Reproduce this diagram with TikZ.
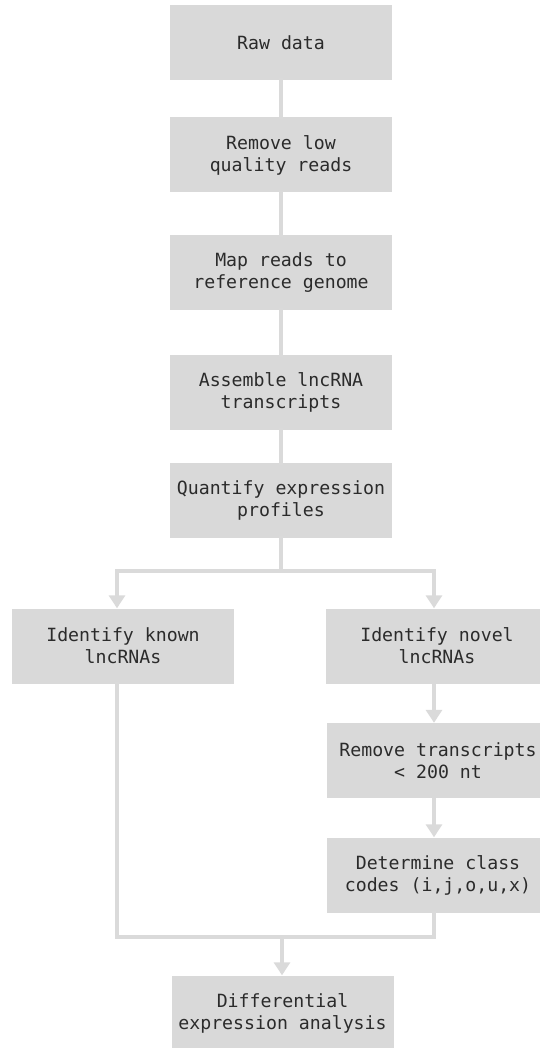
\documentclass[tikz,border=0pt]{standalone}
\usepackage{fontspec}
\setmainfont{DejaVu Sans Mono}
\usetikzlibrary{arrows.meta,calc}
\definecolor{boxgray}{HTML}{D9D9D9}
\definecolor{linegray}{HTML}{DADADA}
\definecolor{txt}{HTML}{2B2B2B}
\begin{document}
\begin{tikzpicture}[x=1pt,y=-1pt,
  box/.style={fill=boxgray,draw=none,minimum width=222pt,minimum height=75pt,inner sep=0pt,align=center,text=txt,font=\fontsize{18.2}{22}\selectfont},
  conn/.style={draw=linegray,line width=3.5pt,line cap=rect},
  arr/.style={draw=linegray,line width=3.5pt,-{Triangle[width=16pt,length=13pt]}}]
\useasboundingbox (0,0) rectangle (540,1048);
\node[box] (raw) at (281,42.5) {Raw data};
\node[box] (rlq) at (281,155) {Remove low\\quality reads};
\node[box] (map) at (281,272.5) {Map reads to\\reference genome};
\node[box] (asm) at (281,392.5) {Assemble lncRNA\\transcripts};
\node[box] (quant) at (281,500.5) {Quantify expression\\profiles};
\node[box] (known) at (123,646) {Identify known\\lncRNAs};
\node[box] (novel) at (437,646) {Identify novel\\lncRNAs};
\node[box] (remove) at (438,760.5) {Remove transcripts\\< 200 nt};
\node[box] (determine) at (438,875) {Determine class\\codes (i,j,o,u,x)};
\node[box] (diff) at (282.5,1013) {Differential\\expression analysis};
% main column
\draw[conn] (raw) -- (rlq);
\draw[conn] (rlq) -- (map);
\draw[conn] (map) -- (asm);
\draw[conn] (asm) -- (quant);
% split
\coordinate (split) at (281,571);
\coordinate (kl) at (117,571);
\coordinate (nl) at (434,571);
\draw[conn] (quant.south) -- (split);
\draw[conn] (kl) -- (nl);
\draw[arr] (kl) -- (kl |- known.north);
\draw[arr] (nl) -- (nl |- novel.north);
\draw[arr] (nl |- novel.south) -- (nl |- remove.north);
\draw[arr] (nl |- remove.south) -- (nl |- determine.north);
% join
\coordinate (jl) at (117,937);
\coordinate (jr) at (434,937);
\coordinate (jm) at (282,937);
\draw[conn] (kl |- known.south) -- (jl) -- (jr) -- (jr |- determine.south);
\draw[arr] (jm) -- (jm |- diff.north);
\end{tikzpicture}
\end{document}
